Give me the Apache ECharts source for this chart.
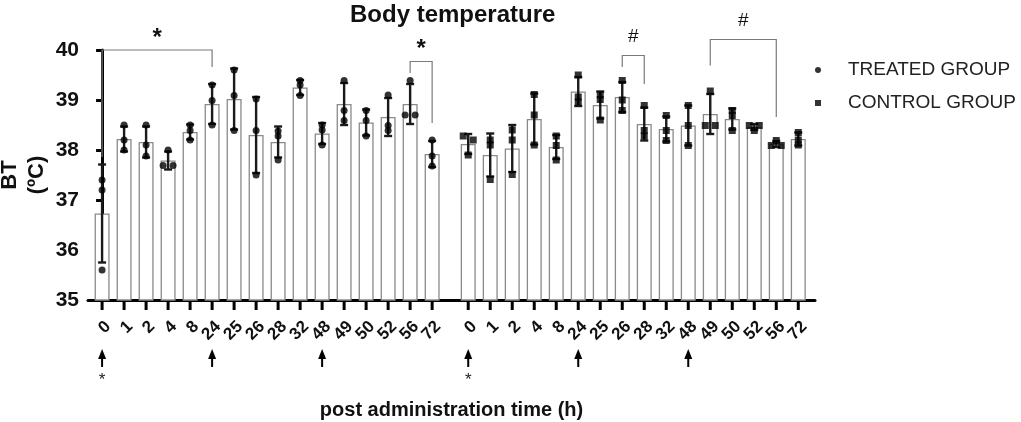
<!DOCTYPE html>
<html>
<head>
<meta charset="utf-8">
<script src="https://cdn.jsdelivr.net/npm/echarts@6/dist/echarts.min.js"></script>
<style>
  html, body { margin: 0; padding: 0; background: #fff; }
  #chart { width: 1021px; height: 422px; }
</style>
</head>
<body>
<div id="chart"></div>
<script>
// time points (h), same for both groups
var hours = [0, 1, 2, 4, 8, 24, 25, 26, 28, 32, 48, 49, 50, 52, 56, 72];

// treated group: mean, SD and the 3 animals
var treatedMean = [36.73, 38.22, 38.16, 37.79, 38.36, 38.92, 39.02, 38.30, 38.16, 39.25, 38.33, 38.92, 38.55, 38.66, 38.92, 37.92];
var treatedSD = [0.98, 0.25, 0.31, 0.18, 0.15, 0.40, 0.61, 0.76, 0.31, 0.15, 0.21, 0.42, 0.26, 0.38, 0.40, 0.26];
var treatedPts = [
    [37.40, 37.20, 35.60], [38.50, 38.20, 38.00], [38.50, 38.10, 37.88], [38.00, 37.69, 37.69],
    [38.50, 38.39, 38.20], [39.30, 38.99, 38.50], [39.60, 39.09, 38.39], [39.02, 38.39, 37.50],
    [38.38, 38.28, 37.80], [39.39, 39.30, 39.09], [38.50, 38.40, 38.10], [39.39, 38.79, 38.59],
    [38.79, 38.59, 38.28], [39.10, 38.49, 38.39], [39.39, 38.70, 38.70], [38.20, 37.88, 37.68]
];

// control group
var controlMean = [38.12, 37.90, 38.03, 38.62, 38.06, 39.17, 38.90, 39.06, 38.52, 38.42, 38.49, 38.72, 38.62, 38.46, 38.12, 38.22];
var controlSD = [0.20, 0.43, 0.47, 0.51, 0.24, 0.29, 0.27, 0.30, 0.33, 0.25, 0.40, 0.40, 0.21, 0.06, 0.06, 0.13];
var controlPts = [
    [38.28, 38.20, 37.90], [38.20, 38.10, 37.41], [38.40, 38.20, 37.51], [39.11, 38.70, 38.10],
    [38.28, 38.09, 37.80], [39.50, 39.06, 38.96], [39.10, 39.01, 38.60], [39.39, 39.00, 38.79],
    [38.89, 38.39, 38.28], [38.69, 38.39, 38.19], [38.89, 38.49, 38.09], [39.18, 38.49, 38.49],
    [38.79, 38.69, 38.39], [38.49, 38.49, 38.39], [38.19, 38.09, 38.09], [38.35, 38.20, 38.10]
];

// significance brackets (group 0 = treated, 1 = control; hours; y in degC)
var sigGroup = [0, 0, 1, 1];
var sigFrom = [0, 56, 26, 49];
var sigTo = [24, 72, 28, 56];
var sigTop = [40.00, 39.77, 39.89, 40.21];
var sigLeftEnd = [37.86, 39.54, 39.66, 39.69];
var sigRightEnd = [39.66, 38.54, 39.32, 38.66];
var sigMark = ['*', '*', '#', '#'];

// administration arrows under the axis
var arrowHours = [0, 24, 48];
var starHours = [0];

var FONT = 'Arial, "Liberation Sans", sans-serif';
var CONTROL_SHIFT = 16.64;   // gap between the two groups, in bar slots
var X_MIN = -0.64, X_MAX = 32.4;

function xPos(gi, i) {
    return gi === 0 ? i : i + CONTROL_SHIFT;
}

var groups = [
    {mean: treatedMean, sd: treatedSD, pts: treatedPts},
    {mean: controlMean, sd: controlSD, pts: controlPts}
];

var barData = [], errData = [], tickVals = [], labelMap = {};
groups.forEach(function (g, gi) {
    hours.forEach(function (h, i) {
        var x = xPos(gi, i);
        barData.push([x, g.mean[i]]);
        errData.push([x, g.mean[i], g.sd[i]]);
        tickVals.push(x);
        labelMap[x.toFixed(3)] = String(h);
    });
});
// empty labels at both ends so echarts' min/max label check never drops a real one
var labelVals = [X_MIN].concat(tickVals, [X_MAX]);

function pointData(gi) {
    var out = [];
    groups[gi].pts.forEach(function (trip, i) {
        var x = xPos(gi, i);
        var offs = [0, 0, 0];
        for (var a = 0; a < trip.length; a++) {
            for (var b = a + 1; b < trip.length; b++) {
                if (Math.abs(trip[a] - trip[b]) < 0.085) { offs[a] = -5; offs[b] = 5; }
            }
        }
        trip.forEach(function (v, k) {
            out.push({value: [x, v], symbolOffset: [offs[k], 0]});
        });
    });
    return out;
}

var sigData = sigGroup.map(function (gi, k) {
    return [xPos(gi, hours.indexOf(sigFrom[k])), xPos(gi, hours.indexOf(sigTo[k])),
        sigTop[k], sigLeftEnd[k], sigRightEnd[k], k];
});

// [x, y, showArrow, showStar] under the axis; every bar gets a tick
var underData = tickVals.map(function (x, n) {
    var h = hours[n % hours.length];
    return [x, 35, arrowHours.indexOf(h) >= 0 ? 1 : 0, starHours.indexOf(h) >= 0 ? 1 : 0];
});

var chart = echarts.init(document.getElementById('chart'));
chart.setOption({
    animation: false,
    backgroundColor: '#fff',
    title: {
        text: 'Body temperature',
        left: 345,
        top: -2,
        textStyle: {fontSize: 24, fontWeight: 'bold', color: '#111', fontFamily: FONT}
    },
    legend: {
        orient: 'vertical',
        left: 810,
        top: 55,
        itemWidth: 50,
        itemHeight: 6,
        itemGap: 13,
        symbolKeepAspect: true,
        textStyle: {fontSize: 19, color: '#222', fontFamily: FONT, lineHeight: 20},
        data: [
            {name: 'TREATED GROUP', icon: 'path://M0,5a5,5 0 1,0 10,0a5,5 0 1,0 -10,0z'},
            {name: 'CONTROL GROUP', icon: 'path://M0,0h10v10h-10z'}
        ]
    },
    grid: {left: 88, top: 50, width: 727, height: 250, containLabel: false, outerBoundsMode: 'none'},
    xAxis: {
        type: 'value',
        min: X_MIN,
        max: X_MAX,
        name: 'post administration time (h)',
        nameLocation: 'middle',
        nameGap: 100,
        nameMoveOverlap: false,
        nameTextStyle: {fontSize: 20, fontWeight: 'bold', color: '#111', fontFamily: FONT},
        splitLine: {show: false},
        axisLine: {show: true, lineStyle: {color: '#000', width: 3}},
        axisTick: {show: false},
        axisLabel: {
            customValues: labelVals,
            hideOverlap: false,
            rotate: 45,
            margin: 18,
            verticalAlign: 'top',
            fontSize: 17,
            fontWeight: 'bold',
            color: '#111',
            fontFamily: FONT,
            formatter: function (v) { return labelMap[v.toFixed(3)] || ''; }
        }
    },
    yAxis: {
        type: 'value',
        min: 35,
        max: 40,
        interval: 1,
        name: 'BT\n(ºC)',
        nameLocation: 'middle',
        nameRotate: 90,
        nameGap: 38,
        nameMoveOverlap: false,
        nameTextStyle: {fontSize: 22, fontWeight: 'bold', color: '#111', fontFamily: FONT, lineHeight: 27},
        splitLine: {show: false},
        axisLine: {show: true, lineStyle: {color: '#000', width: 3}},
        axisTick: {show: true, length: 6, lineStyle: {color: '#000', width: 3}},
        axisLabel: {margin: 9, fontSize: 21, fontWeight: 'bold', color: '#111', fontFamily: FONT}
    },
    series: [
        {
            type: 'bar',
            name: 'mean',
            data: barData,
            barWidth: 15,
            silent: true,
            z: 2,
            itemStyle: {color: '#fff', borderColor: '#8a8a8a', borderWidth: 1.3}
        },
        {
            type: 'custom',
            name: 'sd',
            data: errData,
            dimensions: ['x', 'mean', 'sd'],
            encode: {x: 0, y: 1},
            silent: true,
            z: 3,
            renderItem: function (params, api) {
                var x = api.value(0), m = api.value(1), s = api.value(2);
                var hi = api.coord([x, m + s]), lo = api.coord([x, m - s]);
                var cx = hi[0], hw = 4;
                var st = {stroke: '#1a1a1a', lineWidth: 2.4};
                return {
                    type: 'group',
                    children: [
                        {type: 'line', shape: {x1: cx, y1: hi[1], x2: cx, y2: lo[1]}, style: st},
                        {type: 'line', shape: {x1: cx - hw, y1: hi[1], x2: cx + hw, y2: hi[1]}, style: st},
                        {type: 'line', shape: {x1: cx - hw, y1: lo[1], x2: cx + hw, y2: lo[1]}, style: st}
                    ]
                };
            }
        },
        {
            type: 'scatter',
            name: 'TREATED GROUP',
            data: pointData(0),
            symbol: 'circle',
            symbolSize: 7,
            z: 4,
            itemStyle: {color: '#000'}
        },
        {
            type: 'scatter',
            name: 'CONTROL GROUP',
            data: pointData(1),
            symbol: 'rect',
            symbolSize: 7,
            z: 4,
            itemStyle: {color: '#000'}
        },
        {
            type: 'custom',
            name: 'sig',
            data: sigData,
            encode: {x: [0, 1], y: [2, 3, 4]},
            silent: true,
            clip: false,
            z: 5,
            renderItem: function (params, api) {
                var a = api.coord([api.value(0), api.value(2)]);
                var b = api.coord([api.value(1), api.value(2)]);
                var la = api.coord([api.value(0), api.value(3)]);
                var rb = api.coord([api.value(1), api.value(4)]);
                var mark = sigMark[api.value(5)];
                var isStar = mark === '*';
                return {
                    type: 'group',
                    children: [
                        {
                            type: 'polyline',
                            shape: {points: [[a[0], la[1]], [a[0], a[1]], [b[0], b[1]], [b[0], rb[1]]]},
                            style: {stroke: '#7a7a7a', lineWidth: 1.2, fill: null}
                        },
                        {
                            type: 'text',
                            style: {
                                text: mark,
                                x: (a[0] + b[0]) / 2,
                                y: a[1] - (isStar ? 12 : 19),
                                align: 'center',
                                verticalAlign: 'middle',
                                fontSize: isStar ? 24 : 19,
                                fontWeight: isStar ? 'bold' : 'normal',
                                fontFamily: FONT,
                                fill: '#111'
                            }
                        }
                    ]
                };
            }
        },
        {
            // axis ticks, dosing arrows and the star under the first dose
            type: 'custom',
            name: 'under',
            data: underData,
            encode: {x: 0, y: 1},
            silent: true,
            clip: false,
            z: 10,
            renderItem: function (params, api) {
                var p = api.coord([api.value(0), api.value(1)]);
                var cx = p[0], y = p[1];
                var kids = [
                    {type: 'rect', shape: {x: cx - 1.5, y: y + 1, width: 3, height: 9}, style: {fill: '#000'}, z2: 50}
                ];
                if (api.value(2)) {
                    kids.push({type: 'polygon', shape: {points: [[cx, y + 49], [cx - 4, y + 59], [cx + 4, y + 59]]}, style: {fill: '#000'}});
                    kids.push({type: 'rect', shape: {x: cx - 1, y: y + 57, width: 2, height: 10}, style: {fill: '#000'}});
                }
                if (api.value(3)) {
                    kids.push({
                        type: 'text',
                        style: {
                            text: '*', x: cx, y: y + 80, align: 'center', verticalAlign: 'middle',
                            fontSize: 17, fontFamily: FONT, fill: '#222'
                        }
                    });
                }
                return {type: 'group', children: kids};
            }
        }
    ]
});
</script>
</body>
</html>
